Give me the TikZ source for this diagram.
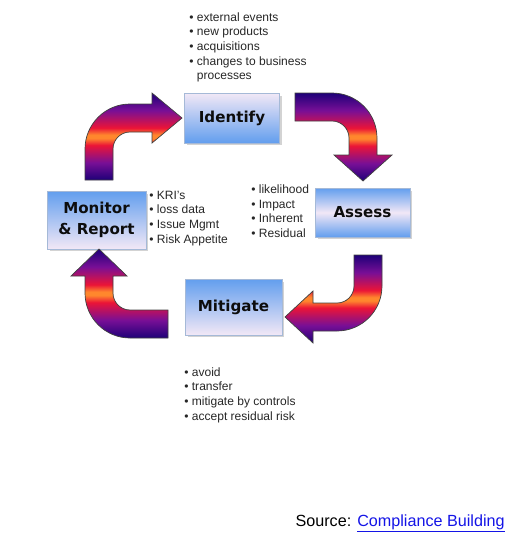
\documentclass[tikz,border=0pt]{standalone}
\usepackage{fontspec}
\setmainfont{Liberation Sans}
\newfontfamily\labelfont{DejaVu Sans}
\usepackage{tikz}
\usetikzlibrary{shadows}
\usetikzlibrary{positioning}
\usepackage{color}

\definecolor{navyarr}{RGB}{30,0,120}
\definecolor{purplearr}{RGB}{120,15,150}
\definecolor{redarr}{RGB}{235,20,55}
\definecolor{orangearr}{RGB}{255,135,45}
\definecolor{boxblue}{RGB}{98,158,238}
\definecolor{boxpale}{RGB}{242,232,246}
\definecolor{boxedge}{RGB}{165,185,215}
\definecolor{linkblue}{RGB}{20,20,230}

\pgfdeclareverticalshading{bendshade}{100bp}{color(0bp)=(navyarr); color(25bp)=(navyarr); color(35bp)=(purplearr); color(45bp)=(redarr); color(49bp)=(orangearr); color(51bp)=(orangearr); color(55bp)=(redarr); color(65bp)=(purplearr); color(75bp)=(navyarr); color(100bp)=(navyarr)}

\tikzstyle{bendarrow} = [shading=bendshade,draw=black!75,line width=0.4pt]
\tikzstyle{phase} = [draw=boxedge,line width=0.4pt,text=black!95,align=center,font=\labelfont\bfseries\fontsize{8.6}{11.8}\selectfont,drop shadow={shadow xshift=0.05cm,shadow yshift=-0.05cm,opacity=0.35,fill=gray}]
\tikzstyle{notes} = [anchor=north west,inner sep=0pt,align=left,text=black!85,font=\fontsize{6.85}{8.35}\selectfont]

\begin{document}
\begin{tikzpicture}[x=0.02cm,y=-0.02cm]
	\useasboundingbox (0,0) rectangle (511,534);

	% the four steps
	\node[phase,top color=boxpale,bottom color=boxblue,minimum width=1.9cm,minimum height=1cm] (identify) at (232,118) {Identify};
	\node[phase,top color=boxblue,bottom color=boxblue,middle color=boxpale,minimum width=1.9cm,minimum height=0.98cm] (assess) at (362.5,212.5) {Assess};
	\node[phase,top color=boxblue,bottom color=boxpale,minimum width=1.94cm,minimum height=1.12cm] (mitigate) at (233.5,307) {Mitigate};
	\node[phase,top color=boxblue,bottom color=boxpale,minimum width=1.98cm,minimum height=1.16cm] (monitor) at (96.5,220) {Monitor\\ \& Report};

	% bent arrows
	\shadedraw[bendarrow] (85,180) -- (85,149) arc[start angle=180,end angle=270,radius=45]
		-- (152,104) -- (152,93) -- (182,118) -- (152,143) -- (152,132) -- (130,132)
		arc[start angle=270,end angle=180,radius=17] -- (113,180) -- cycle;
	\shadedraw[bendarrow] (295,93) -- (332,93) arc[start angle=270,end angle=360,radius=45]
		-- (377,155) -- (392,155) -- (363,181) -- (334,155) -- (349,155) -- (349,138)
		arc[start angle=0,end angle=-90,radius=17] -- (295,121) -- cycle;
	\shadedraw[bendarrow] (354,255) -- (382,255) -- (382,286) arc[start angle=0,end angle=90,radius=45]
		-- (313,331) -- (313,343) -- (285,317) -- (313,291) -- (313,303) -- (337,303)
		arc[start angle=90,end angle=0,radius=17] -- cycle;
	\shadedraw[bendarrow] (168,338) -- (130,338) arc[start angle=90,end angle=180,radius=45]
		-- (85,276) -- (71,276) -- (99,249) -- (127,276) -- (113,276) -- (113,293)
		arc[start angle=180,end angle=90,radius=17] -- (168,310) -- cycle;

	% notes
	\node[notes] (idnotes) at (189,12) {\textbullet\ external events\\ \textbullet\ new products\\ \textbullet\ acquisitions\\ \textbullet\ changes to business\\ \hphantom{\textbullet\ }processes};
	\node[notes] (asnotes) at (251,184.5) {\textbullet\ likelihood\\ \textbullet\ Impact\\ \textbullet\ Inherent\\ \textbullet\ Residual};
	\node[notes] (monotes) at (149,190.5) {\textbullet\ KRI's\\ \textbullet\ loss data\\ \textbullet\ Issue Mgmt\\ \textbullet\ Risk Appetite};
	\node[notes] (minotes) at (184,367) {\textbullet\ avoid\\ \textbullet\ transfer\\ \textbullet\ mitigate by controls\\ \textbullet\ accept residual risk};

	\node[anchor=base east,inner sep=0pt,font=\fontsize{9.2}{11}\selectfont] (source) at (505,526) {Source: \textcolor{linkblue}{\underline{Compliance Building}}};
\end{tikzpicture}
\end{document}
